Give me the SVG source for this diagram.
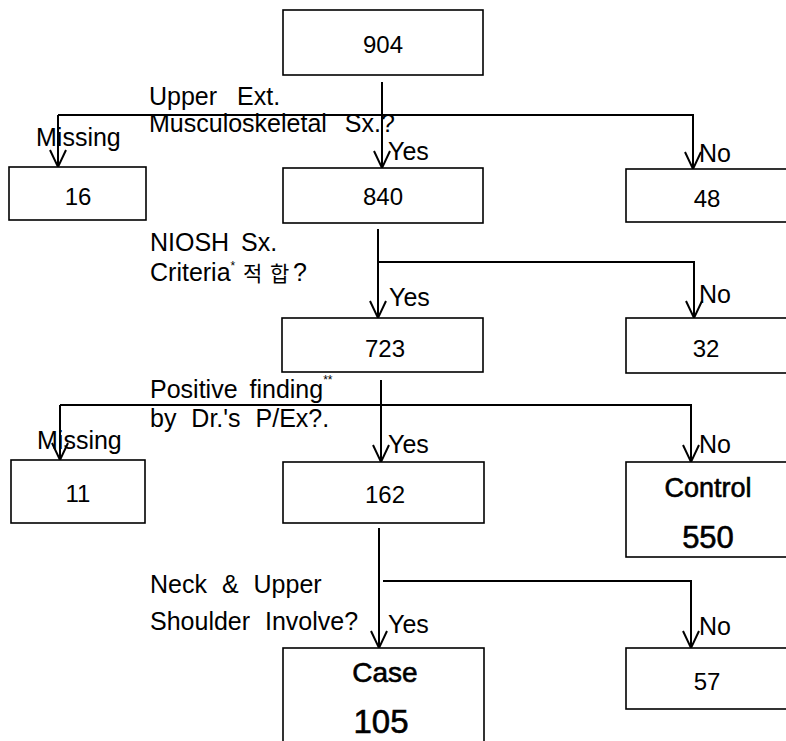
<svg xmlns="http://www.w3.org/2000/svg" width="786" height="741" viewBox="0 0 786 741">
<defs>
<marker id="arr" markerUnits="userSpaceOnUse" viewBox="-18 -10 20 20" markerWidth="20" markerHeight="20" refX="0" refY="0" orient="auto" overflow="visible">
<path d="M-17,-8 L0,0 L-17,8" fill="none" stroke="#000" stroke-width="2"/>
</marker>
<style>
.box{fill:#fff;stroke:#000;stroke-width:1.6}
.ln{fill:none;stroke:#000;stroke-width:2}
.t{font-family:"Liberation Sans",Arial,"Noto Sans CJK KR",sans-serif;font-size:25px;fill:#000}
.n{font-family:"Liberation Sans",Arial,sans-serif;font-size:24px;fill:#000;text-anchor:middle}
.b{font-family:"Liberation Sans",Arial,sans-serif;fill:#000;stroke:#000;stroke-width:0.6;text-anchor:middle}
.sup{font-size:12px}
.kr{font-family:"Noto Sans CJK KR",sans-serif;font-size:21px}
</style>
</defs>
<rect width="786" height="741" fill="#fff"/>

<g id="connectors">
<line class="ln" x1="382" y1="82" x2="382" y2="168" marker-end="url(#arr)"/>
<polyline class="ln" points="58,115 693,115 693,169" marker-end="url(#arr)"/>
<line class="ln" x1="58" y1="115" x2="58" y2="167" marker-end="url(#arr)"/>
<line class="ln" x1="378" y1="229" x2="378" y2="318" marker-end="url(#arr)"/>
<polyline class="ln" points="378,262 694,262 694,318" marker-end="url(#arr)"/>
<line class="ln" x1="381" y1="380" x2="381" y2="462" marker-end="url(#arr)"/>
<polyline class="ln" points="60,405 691,405 691,462" marker-end="url(#arr)"/>
<line class="ln" x1="60" y1="405" x2="60" y2="460" marker-end="url(#arr)"/>
<line class="ln" x1="379" y1="528" x2="379" y2="648" marker-end="url(#arr)"/>
<polyline class="ln" points="383,581 691,581 691,648" marker-end="url(#arr)"/>
</g>

<g id="labels">
<text class="t" x="149" y="105" font-size="24" word-spacing="13">Upper Ext.</text>
<text class="t" x="149" y="132" font-size="24" word-spacing="11">Musculoskeletal Sx.?</text>
<text class="t" x="36" y="146">Missing</text>
<text class="t" x="388" y="160">Yes</text>
<text class="t" x="699" y="162">No</text>

<text class="t" x="150" y="251" word-spacing="5">NIOSH Sx.</text>
<text class="t" x="150" y="281">Criteria<tspan class="sup" dy="-11">*</tspan></text>
<text class="kr" x="243 270" y="281">적합</text>
<text class="t" x="293" y="281">?</text>
<text class="t" x="389" y="306">Yes</text>
<text class="t" x="699" y="303">No</text>

<text class="t" x="150" y="398" word-spacing="5">Positive finding<tspan class="sup" dy="-14">**</tspan></text>
<text class="t" x="150" y="427" word-spacing="8">by Dr.'s P/Ex?.</text>
<text class="t" x="37" y="449">Missing</text>
<text class="t" x="388" y="453">Yes</text>
<text class="t" x="699" y="453">No</text>

<text class="t" x="150" y="593" word-spacing="8">Neck &amp; Upper</text>
<text class="t" x="150" y="630" word-spacing="8">Shoulder Involve?</text>
<text class="t" x="388" y="633">Yes</text>
<text class="t" x="699" y="635">No</text>
</g>

<g id="n904"><rect class="box" x="283" y="10" width="200" height="65"/><text class="n" x="383" y="53">904</text></g>
<g id="n16"><rect class="box" x="9" y="167" width="137" height="53"/><text class="n" x="78" y="205">16</text></g>
<g id="n840"><rect class="box" x="283" y="168" width="200" height="55"/><text class="n" x="383" y="205">840</text></g>
<g id="n48"><rect class="box" x="626" y="169" width="180" height="53"/><text class="n" x="707" y="207">48</text></g>
<g id="n723"><rect class="box" x="282" y="318" width="201" height="54"/><text class="n" x="385" y="357">723</text></g>
<g id="n32"><rect class="box" x="626" y="318" width="180" height="55"/><text class="n" x="706" y="357">32</text></g>
<g id="n11"><rect class="box" x="11" y="460" width="134" height="63"/><text class="n" x="78" y="502">11</text></g>
<g id="n162"><rect class="box" x="283" y="462" width="201" height="61"/><text class="n" x="385" y="503">162</text></g>
<g id="control"><rect class="box" x="626" y="462" width="180" height="95"/><text class="b" x="708" y="497" font-size="27">Control</text><text class="b" x="708" y="548" font-size="31">550</text></g>
<g id="n57"><rect class="box" x="626" y="648" width="180" height="61"/><text class="n" x="707" y="690">57</text></g>
<g id="case"><rect class="box" x="283" y="648" width="201" height="110"/><text class="b" x="385" y="682" font-size="28">Case</text><text class="b" x="381" y="733" font-size="33">105</text></g>
</svg>
